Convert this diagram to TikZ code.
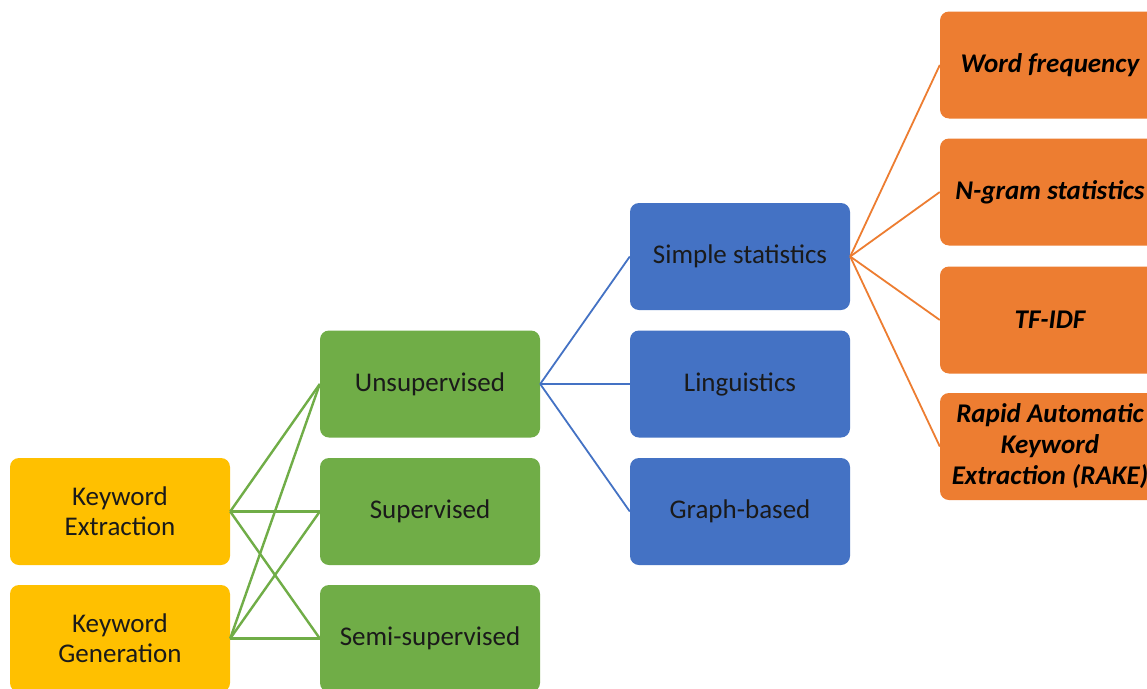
\documentclass[tikz,border=0pt]{standalone}
\usepackage{fontspec}
\setmainfont{Carlito}
\usepackage{xcolor}
\usetikzlibrary{positioning}

\definecolor{kwyellow}{HTML}{FFC000}
\definecolor{kwgreen}{HTML}{70AD47}
\definecolor{kwblue}{HTML}{4472C4}
\definecolor{kworange}{HTML}{ED7D31}
\definecolor{kwtext}{HTML}{1A1A1A}

\tikzset{
    kwbox/.style={rectangle, rounded corners=9pt, minimum width=220pt, minimum height=107pt,
        align=center, text=kwtext, font=\fontsize{27}{30}\selectfont, inner sep=2pt},
    taskbox/.style={kwbox, fill=kwyellow},
    learnbox/.style={kwbox, fill=kwgreen},
    methodbox/.style={kwbox, fill=kwblue},
    statbox/.style={kwbox, fill=kworange, text=black, font=\fontsize{27}{31}\selectfont\bfseries\itshape}
}

\begin{document}
\begin{tikzpicture}[x=1pt, y=-1pt]
            \useasboundingbox (0,0) rectangle (1147,688);
            \fill[white] (0,0) rectangle (1147,688);
            \clip (0,0) rectangle (1147,688);
            % tasks
            \node[taskbox] (extraction) at (120,511.5) {Keyword\\Extraction};
            \node[taskbox] (generation) at (120,638.5) {Keyword\\Generation};
            % learning settings
            \node[learnbox] (unsup) at (430,384) {Unsupervised};
            \node[learnbox] (sup) at (430,511.5) {Supervised};
            \node[learnbox] (semi) at (430,638.5) {Semi-supervised};
            % unsupervised methods
            \node[methodbox] (simple) at (740,256.5) {Simple statistics};
            \node[methodbox] (ling) at (740,384) {Linguistics};
            \node[methodbox] (graph) at (740,511.5) {Graph-based};
            % simple statistics
            \node[statbox] (wordfreq) at (1050,65) {Word frequency};
            \node[statbox] (ngram) at (1050,192) {N-gram statistics};
            \node[statbox] (tfidf) at (1050,320) {TF-IDF};
            \node[statbox] (rake) at (1050,446.5) {Rapid Automatic\\Keyword\\Extraction (RAKE)};
            % connectors
            \foreach \t in {extraction,generation} {
                \foreach \l in {unsup,sup,semi} {
                    \draw[kwgreen, line width=2.4pt] (\t.east) -- (\l.west);
                }
            }
            \foreach \m in {simple,ling,graph} {
                \draw[kwblue, line width=1.8pt] (unsup.east) -- (\m.west);
            }
            \foreach \s in {wordfreq,ngram,tfidf,rake} {
                \draw[kworange, line width=1.8pt] (simple.east) -- (\s.west);
            }
        \end{tikzpicture}
\end{document}
